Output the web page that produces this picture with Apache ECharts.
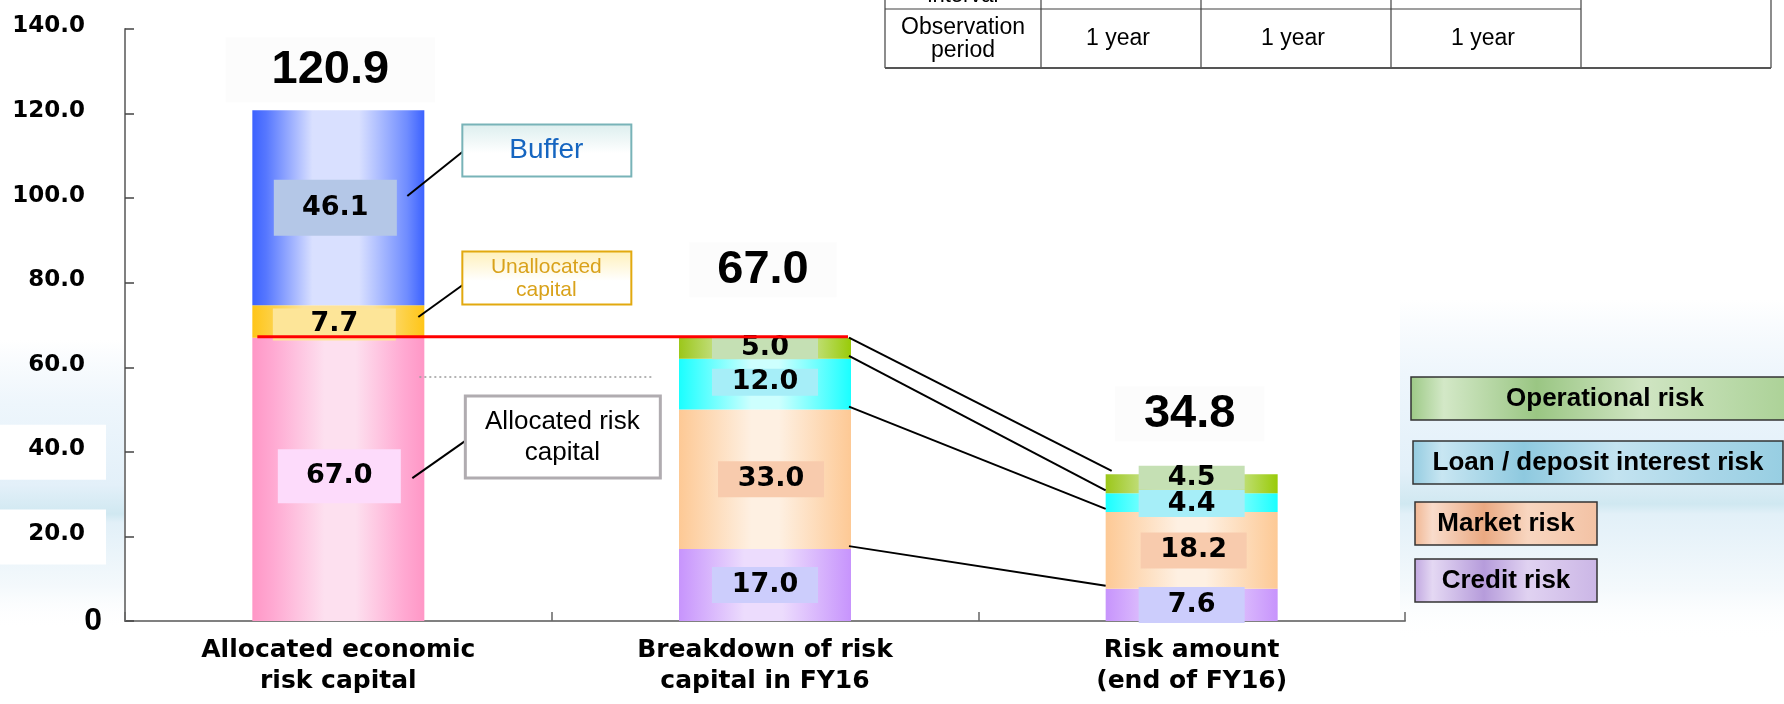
<!DOCTYPE html>
<html>
<head>
<meta charset="utf-8">
<script src="https://cdn.jsdelivr.net/npm/echarts@6/dist/echarts.min.js"></script>
<style>
  html, body { margin: 0; padding: 0; background: #ffffff; }
  #chart { width: 1784px; height: 704px; }
</style>
</head>
<body>
<div id="chart"></div>
<script>
// ---- data ----
const categories = ['Allocated economic\nrisk capital', 'Breakdown of risk\ncapital in FY16', 'Risk amount\n(end of FY16)'];
const allocatedRisk   = [67.0, null, null];
const unallocated     = [7.7, null, null];
const buffer          = [46.1, null, null];
const creditRisk      = [null, 17.0, 7.6];
const marketRisk      = [null, 33.0, 18.2];
const loanDepositRisk = [null, 12.0, 4.4];
const operationalRisk = [null, 5.0, 4.5];
const totals          = [120.9, 67.0, 34.8];
const yMin = 0, yMax = 140, yStep = 20;
const tableRowHead = 'Observation\nperiod';
const tableCells = ['1 year', '1 year', '1 year'];
const legendNames = ['Operational risk', 'Loan / deposit interest risk', 'Market risk', 'Credit risk'];
const annotationNames = ['Buffer', 'Unallocated\ncapital', 'Allocated risk\ncapital'];

// ---- styling helpers ----
const SANS = "'Liberation Sans', Arial, sans-serif";
const WIDE = "'DejaVu Sans', Verdana, sans-serif";
const BAR_W = 172;

function hGrad(stops) {
  return new echarts.graphic.LinearGradient(0, 0, 1, 0,
    stops.map(s => ({ offset: s[0], color: s[1] })));
}
function gradObj(stops, vertical) {
  return { type: 'linear', x: 0, y: 0, x2: vertical ? 0 : 1, y2: vertical ? 1 : 0,
    colorStops: stops.map(s => ({ offset: s[0], color: s[1] })) };
}

const fills = {
  allocated: hGrad([[0, '#ff97c6'], [0.12, '#ffa9d2'], [0.42, '#fde0ef'], [0.6, '#fde0ef'], [0.88, '#ffa9d2'], [1, '#ff97c6']]),
  unalloc:   hGrad([[0, '#ffc518'], [0.1, '#fdcf3f'], [0.3, '#fde39a'], [0.7, '#fde39a'], [0.9, '#fdcf3f'], [1, '#ffc518']]),
  buffer:    hGrad([[0, '#3c62ff'], [0.08, '#5677ff'], [0.35, '#d9e0ff'], [0.62, '#d9e0ff'], [0.9, '#6f8cff'], [1, '#3c62ff']]),
  credit:    hGrad([[0, '#c794fc'], [0.38, '#ecdcfd'], [0.6, '#ecdcfd'], [1, '#c794fc']]),
  market:    hGrad([[0, '#fdc995'], [0.42, '#fef0e2'], [0.58, '#fef0e2'], [1, '#fdc995']]),
  loan:      hGrad([[0, '#1affff'], [0.42, '#cdfffe'], [0.58, '#cdfffe'], [1, '#1affff']]),
  oper:      hGrad([[0, '#9cc71a'], [0.3, '#d2e8a8'], [0.7, '#d2e8a8'], [1, '#99cb08']])
};

// one stacked segment series with its boxed value label
function segSeries(name, values, fill, boxColor, boxW, boxH, boxOff) {
  return {
    name: name, type: 'bar', stack: 'risk', barWidth: BAR_W, z: 3,
    itemStyle: { color: fill },
    data: values.map((v, i) => v == null ? '-' : {
      value: v,
      label: { height: boxH[i], lineHeight: boxH[i], offset: boxOff[i] }
    }),
    label: {
      show: true, position: 'inside',
      formatter: p => Number(p.value).toFixed(1),
      fontFamily: WIDE, fontWeight: 'bold', fontSize: 27, color: '#000',
      backgroundColor: boxColor, width: boxW, align: 'center'
    }
  };
}

const Z3 = [[0, 0], [0, 0], [0, 0]];
const series = [
  segSeries('Allocated risk capital', allocatedRisk, fills.allocated, '#fddbfb', 123, [54, 0, 0], [[1, -3], [0, 0], [0, 0]]),
  segSeries('Unallocated capital', unallocated, fills.unalloc, '#fde598', 123, [32, 0, 0], [[-4, 3], [0, 0], [0, 0]]),
  segSeries('Buffer', buffer, fills.buffer, '#b4c7e7', 123, [56, 0, 0], [[-3, 0], [0, 0], [0, 0]]),
  segSeries('Credit risk', creditRisk, fills.credit, '#cccdfc', 106, [0, 36, 36], Z3),
  segSeries('Market risk', marketRisk, fills.market, '#f8cbad', 106, [0, 36, 36], [[0, 0], [6, 0], [2, 0]]),
  segSeries('Loan / deposit interest risk', loanDepositRisk, fills.loan, '#a6eef8', 106, [0, 27, 27], [[0, 0], [0, -2], [0, 1]]),
  segSeries('Operational risk', operationalRisk, fills.oper, '#c5e0b4', 106, [0, 22, 24], [[0, 0], [0, 0], [0, -6]]),
  {
    name: 'Total', type: 'scatter', symbolSize: 0, z: 5,
    itemStyle: { opacity: 1 },
    data: totals.map((v, i) => ({
      value: [i, v],
      label: { offset: [[-8, -40], [-2, -68], [-2, -60]][i], padding: [[9, 46], [4, 28], [4, 29]][i] }
    })),
    label: {
      show: true, position: 'inside', opacity: 1,
      formatter: p => p.value[1].toFixed(1),
      fontFamily: SANS, fontWeight: 'bold', fontSize: 47, color: '#000000', textBorderWidth: 0,
      backgroundColor: '#fcfcfc'
    }
  }
];

const chart = echarts.init(document.getElementById('chart'), null, { renderer: 'canvas' });

chart.setOption({
  animation: false,
  backgroundColor: '#ffffff',
  grid: { left: 125, right: 379, top: 29, bottom: 83, containLabel: false },
  xAxis: {
    type: 'category', data: categories,
    axisLine: { show: true, lineStyle: { color: '#808080', width: 2 } },
    axisTick: { show: true, inside: true, length: 9, lineStyle: { color: '#666', width: 1.5 } },
    axisLabel: { margin: 14, fontFamily: WIDE, fontWeight: 'bold', fontSize: 25, lineHeight: 31, color: '#000' }
  },
  yAxis: {
    type: 'value', min: yMin, max: yMax, interval: yStep,
    splitLine: { show: false },
    axisLine: { show: true, lineStyle: { color: '#808080', width: 2 } },
    axisTick: { show: true, inside: true, length: 9, lineStyle: { color: '#444', width: 1.5 } },
    axisLabel: {
      margin: 23,
      formatter: v => v === 0 ? '{z|0}' : '{v|' + v.toFixed(1) + '}',
      rich: {
        v: { fontFamily: WIDE, fontWeight: 'bold', fontSize: 23, color: '#000', padding: [0, 17, 5, 0] },
        z: { fontFamily: SANS, fontWeight: 'bold', fontSize: 32, color: '#000', padding: [0, 0, 0, 0] }
      }
    }
  },
  series: series
});

// ---- overlays anchored to the chart's own scales ----
const P = (i, v) => chart.convertToPixel({ gridIndex: 0 }, [i, v]);
const Y = v => P(0, v)[1];
const half = BAR_W / 2;
const c1 = P(0, 0)[0], c2 = P(1, 0)[0], c3 = P(2, 0)[0];
const R1 = c1 + half, L2 = c2 - half, R2 = c2 + half, L3 = c3 - half;

function line(x1, y1, x2, y2, stroke, w, extra) {
  return Object.assign({ type: 'line', z: 50, shape: { x1, y1, x2, y2 },
    style: { stroke, lineWidth: w } }, extra || {});
}
function txt(text, x, y, font, color, extraStyle) {
  return { type: 'text', z: 60,
    style: Object.assign({ text, x, y, font, fill: color, align: 'center', verticalAlign: 'middle' }, extraStyle || {}) };
}

const g = [];

// sky / sea backdrop at the left and right edges
const sky = [[0, 'rgba(236,244,251,0)'], [0.22, '#eef6fc'], [0.5, '#e3f0f9'], [0.6, '#d0e8f1'], [0.63, '#e2f0f8'], [0.85, '#f4f9fc'], [1, 'rgba(255,255,255,0)']];
g.push({ type: 'rect', z: -10, shape: { x: 0, y: 340, width: 126, height: 290 }, style: { fill: gradObj(sky, true) } });
g.push({ type: 'rect', z: -10, shape: { x: 1400, y: 300, width: 384, height: 340 }, style: { fill: gradObj(sky, true) } });
[40, 20].forEach(v => g.push({ type: 'rect', z: -9, shape: { x: 0, y: Y(v) - 27, width: 106, height: 55 }, style: { fill: '#ffffff' } }));

// red line at the allocated risk capital level
g.push(line(c1 - half + 5, Y(67) - 1, R2 - 3, Y(67) - 1, '#ff0000', 3, { z: 70 }));
// dotted guide
g.push(line(R1 - 5, Y(57.7), L2 - 26, Y(57.7), '#9a9a9a', 1.5, { style: { stroke: '#9a9a9a', lineWidth: 1.5, lineDash: [2, 3] } }));

// connectors from the FY16 breakdown to the FY16 risk amount
const b2 = [67.0, 17.0 + 33.0 + 12.0, 17.0 + 33.0, 17.0];
const b3 = [totals[2], 7.6 + 18.2 + 4.4, 7.6 + 18.2, 7.6];
b2.forEach((v, k) => {
  const y1 = Y(v) - (k === 0 ? 0 : 3);
  const y2 = Y(b3[k]) - 3;
  g.push(line(R2 - 2, y1, L3 + (k === 0 ? 6 : 0), y2, '#000', 2));
});

// annotation boxes with leader lines
g.push(line(R1 - 17, Y(100.5), R1 + 38, Y(110.9), '#000', 2));
g.push({ type: 'rect', z: 55, shape: { x: R1 + 38, y: Y(117.4), width: 169, height: 52 },
  style: { fill: gradObj([[0, '#dceeee'], [0.55, '#ffffff'], [1, '#ffffff']], true), stroke: '#78b3b8', lineWidth: 2 } });
g.push(txt(annotationNames[0], R1 + 38 + 84, Y(117.4) + 26, "28px " + SANS, '#1565c0'));

g.push(line(R1 - 6, Y(71.9), R1 + 38, Y(79.4), '#000', 2));
g.push({ type: 'rect', z: 55, shape: { x: R1 + 38, y: Y(87.4), width: 169, height: 53 },
  style: { fill: gradObj([[0, '#fff0b8'], [0.55, '#ffffff'], [1, '#ffffff']], true), stroke: '#e2a90f', lineWidth: 2 } });
g.push(txt(annotationNames[1], R1 + 38 + 84, Y(87.4) + 27, "21px " + SANS, '#d9a21b', { lineHeight: 23 }));

g.push(line(R1 - 12, Y(33.8), R1 + 41, Y(42.6), '#000', 2));
g.push({ type: 'rect', z: 55, shape: { x: R1 + 41, y: Y(53.2), width: 195, height: 82 },
  style: { fill: '#ffffff', stroke: '#b0acb0', lineWidth: 3 } });
g.push(txt(annotationNames[2], R1 + 41 + 97, Y(53.2) + 41, "26px " + SANS, '#000', { lineHeight: 31 }));

// legend boxes
const legendSpec = [
  { x: 1411, y: 377, w: 420, tx: 1605, stops: [[0, '#9cc985'], [0.08, '#d3e8c7'], [0.3, '#9ac683'], [0.55, '#d0e5c3'], [0.8, '#b5d7a3'], [1, '#a2cc8a']] },
  { x: 1413, y: 441, w: 370, tx: 1598, stops: [[0, '#93cbe0'], [0.08, '#c8e6f2'], [0.3, '#8ec9df'], [0.55, '#c3e3f0'], [0.8, '#a9d6e8'], [1, '#97cee2']] },
  { x: 1415, y: 502, w: 182, tx: 1506, stops: [[0, '#f0b692'], [0.1, '#f9dccb'], [0.38, '#eaa982'], [0.62, '#f8d6c0'], [1, '#f3c2a4']] },
  { x: 1415, y: 559, w: 182, tx: 1506, stops: [[0, '#c0a6e0'], [0.1, '#e4d8f3'], [0.38, '#b69cdb'], [0.62, '#e0d2f1'], [1, '#cbb6e6']] }
];
legendSpec.forEach((s, k) => {
  g.push({ type: 'rect', z: 55, shape: { x: s.x, y: s.y, width: s.w, height: 43 },
    style: { fill: gradObj(s.stops, false), stroke: '#333', lineWidth: 1.5 } });
  g.push(txt(legendNames[k], s.tx, s.y + 22, "bold 26px " + SANS, '#000'));
});

// table fragment at the top right
const colX = [885, 1041, 1201, 1391, 1581, 1771];
colX.forEach(x => g.push(line(x, 0, x, 68, '#404040', 1.2)));
g.push(line(885, 9, 1581, 9, '#404040', 1.2));
g.push(line(885, 68, 1771, 68, '#555', 2.2));
g.push(txt('interval', (colX[0] + colX[1]) / 2, 7, "22px " + SANS, '#000', { verticalAlign: 'bottom' }));
g.push(txt(tableRowHead, (colX[0] + colX[1]) / 2, 39, "23px " + SANS, '#000', { lineHeight: 23 }));
tableCells.forEach((t, k) => g.push(txt(t, (colX[k + 1] + colX[k + 2]) / 2 - 3, 39, "23px " + SANS, '#000')));

chart.setOption({ graphic: { elements: g } });
</script>
</body>
</html>
